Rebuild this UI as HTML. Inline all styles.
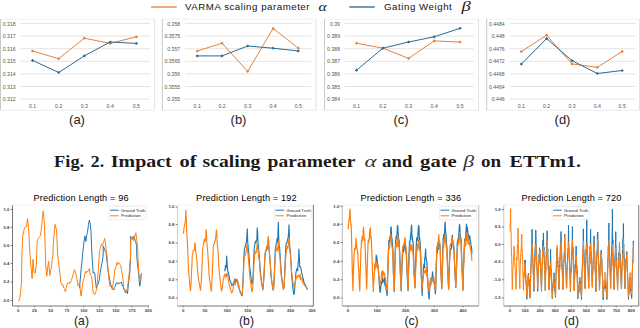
<!DOCTYPE html>
<html><head><meta charset="utf-8"><style>
html,body{margin:0;padding:0;background:#fff;width:640px;height:328px;overflow:hidden}
svg{display:block}
.yl{font-family:"Liberation Sans",sans-serif;font-size:5.8px;fill:#555}
.plab2{font-family:"Liberation Sans",sans-serif;font-size:12.2px;fill:#222}
.plab{font-family:"Liberation Sans",sans-serif;font-size:13px;fill:#222}
.leg{font-family:"Liberation Sans",sans-serif;font-size:9.7px;fill:#111}
.greek{font-family:"Liberation Serif",serif;font-size:12.5px;font-style:italic;fill:#1a1a1a}
.cap{font-family:"Liberation Serif",serif;font-size:17.4px;font-weight:bold;fill:#1a1a1a}
.capi{font-family:"Liberation Serif",serif;font-size:16.5px;font-style:italic;fill:#333}
.tt{font-family:"Liberation Sans",sans-serif;font-size:9.2px;fill:#000}
.tk{font-family:"Liberation Sans",sans-serif;font-size:4.3px;font-weight:bold;fill:#444}
.lg{font-family:"Liberation Sans",sans-serif;font-size:4.2px;fill:#222}
</style></head><body>
<svg width="640" height="328" viewBox="0 0 640 328">
<rect width="640" height="328" fill="#fff"/>
<line x1="0.5" y1="19" x2="154.7" y2="19" stroke="#f0f0f0" stroke-width="1"/>
<line x1="0.5" y1="110.3" x2="154.7" y2="110.3" stroke="#ececec" stroke-width="1"/>
<line x1="0.5" y1="19" x2="0.5" y2="110.3" stroke="#c9c9c9" stroke-width="1"/>
<line x1="154.7" y1="19" x2="154.7" y2="110.3" stroke="#e2e2e2" stroke-width="1"/>
<line x1="19.8" y1="23.5" x2="149.8" y2="23.5" stroke="#e4e4e4" stroke-width="1"/>
<text x="15.7" y="25.6" class="yl" text-anchor="end" textLength="12.89" lengthAdjust="spacingAndGlyphs">0.318</text>
<line x1="19.8" y1="36.1" x2="149.8" y2="36.1" stroke="#e4e4e4" stroke-width="1"/>
<text x="15.7" y="38.2" class="yl" text-anchor="end" textLength="12.89" lengthAdjust="spacingAndGlyphs">0.317</text>
<line x1="19.8" y1="48.7" x2="149.8" y2="48.7" stroke="#e4e4e4" stroke-width="1"/>
<text x="15.7" y="50.800000000000004" class="yl" text-anchor="end" textLength="12.89" lengthAdjust="spacingAndGlyphs">0.316</text>
<line x1="19.8" y1="61.3" x2="149.8" y2="61.3" stroke="#e4e4e4" stroke-width="1"/>
<text x="15.7" y="63.4" class="yl" text-anchor="end" textLength="12.89" lengthAdjust="spacingAndGlyphs">0.315</text>
<line x1="19.8" y1="73.9" x2="149.8" y2="73.9" stroke="#e4e4e4" stroke-width="1"/>
<text x="15.7" y="76.0" class="yl" text-anchor="end" textLength="12.89" lengthAdjust="spacingAndGlyphs">0.314</text>
<line x1="19.8" y1="86.5" x2="149.8" y2="86.5" stroke="#e4e4e4" stroke-width="1"/>
<text x="15.7" y="88.6" class="yl" text-anchor="end" textLength="12.89" lengthAdjust="spacingAndGlyphs">0.313</text>
<line x1="19.8" y1="99.1" x2="149.8" y2="99.1" stroke="#e4e4e4" stroke-width="1"/>
<text x="15.7" y="101.19999999999999" class="yl" text-anchor="end" textLength="12.89" lengthAdjust="spacingAndGlyphs">0.312</text>
<text x="32.5" y="107.7" class="yl" text-anchor="middle" textLength="7.16" lengthAdjust="spacingAndGlyphs">0.1</text>
<text x="58.7" y="107.7" class="yl" text-anchor="middle" textLength="7.16" lengthAdjust="spacingAndGlyphs">0.2</text>
<text x="84.3" y="107.7" class="yl" text-anchor="middle" textLength="7.16" lengthAdjust="spacingAndGlyphs">0.3</text>
<text x="110.2" y="107.7" class="yl" text-anchor="middle" textLength="7.16" lengthAdjust="spacingAndGlyphs">0.4</text>
<text x="136.4" y="107.7" class="yl" text-anchor="middle" textLength="7.16" lengthAdjust="spacingAndGlyphs">0.5</text>
<polyline points="32.5,51 58.7,58.7 84.3,38.2 110.2,43.4 136.4,36.8" fill="none" stroke="#E8803A" stroke-width="1.0" stroke-linejoin="round"/>
<path d="M30.9,51L32.5,49.4L34.1,51L32.5,52.6Z" fill="#E8803A"/>
<path d="M57.1,58.7L58.7,57.1L60.300000000000004,58.7L58.7,60.300000000000004Z" fill="#E8803A"/>
<path d="M82.7,38.2L84.3,36.6L85.89999999999999,38.2L84.3,39.800000000000004Z" fill="#E8803A"/>
<path d="M108.60000000000001,43.4L110.2,41.8L111.8,43.4L110.2,45.0Z" fill="#E8803A"/>
<path d="M134.8,36.8L136.4,35.199999999999996L138.0,36.8L136.4,38.4Z" fill="#E8803A"/>
<polyline points="32.5,60.4 58.7,72.5 84.3,55.9 110.2,42 136.4,43.4" fill="none" stroke="#2B6A94" stroke-width="1.0" stroke-linejoin="round"/>
<path d="M30.9,60.4L32.5,58.8L34.1,60.4L32.5,62.0Z" fill="#2B6A94"/>
<path d="M57.1,72.5L58.7,70.9L60.300000000000004,72.5L58.7,74.1Z" fill="#2B6A94"/>
<path d="M82.7,55.9L84.3,54.3L85.89999999999999,55.9L84.3,57.5Z" fill="#2B6A94"/>
<path d="M108.60000000000001,42L110.2,40.4L111.8,42L110.2,43.6Z" fill="#2B6A94"/>
<path d="M134.8,43.4L136.4,41.8L138.0,43.4L136.4,45.0Z" fill="#2B6A94"/>
<text x="77" y="124.3" class="plab" text-anchor="middle">(a)</text>
<line x1="162.3" y1="19" x2="316.1" y2="19" stroke="#f0f0f0" stroke-width="1"/>
<line x1="162.3" y1="110.3" x2="316.1" y2="110.3" stroke="#ececec" stroke-width="1"/>
<line x1="162.3" y1="19" x2="162.3" y2="110.3" stroke="#c9c9c9" stroke-width="1"/>
<line x1="316.1" y1="19" x2="316.1" y2="110.3" stroke="#e2e2e2" stroke-width="1"/>
<line x1="185.2" y1="23.5" x2="311.2" y2="23.5" stroke="#e4e4e4" stroke-width="1"/>
<text x="180.2" y="25.6" class="yl" text-anchor="end" textLength="12.89" lengthAdjust="spacingAndGlyphs">0.358</text>
<line x1="185.2" y1="36.1" x2="311.2" y2="36.1" stroke="#e4e4e4" stroke-width="1"/>
<text x="180.2" y="38.2" class="yl" text-anchor="end" textLength="15.75" lengthAdjust="spacingAndGlyphs">0.3575</text>
<line x1="185.2" y1="48.7" x2="311.2" y2="48.7" stroke="#e4e4e4" stroke-width="1"/>
<text x="180.2" y="50.800000000000004" class="yl" text-anchor="end" textLength="12.89" lengthAdjust="spacingAndGlyphs">0.357</text>
<line x1="185.2" y1="61.3" x2="311.2" y2="61.3" stroke="#e4e4e4" stroke-width="1"/>
<text x="180.2" y="63.4" class="yl" text-anchor="end" textLength="15.75" lengthAdjust="spacingAndGlyphs">0.3565</text>
<line x1="185.2" y1="73.9" x2="311.2" y2="73.9" stroke="#e4e4e4" stroke-width="1"/>
<text x="180.2" y="76.0" class="yl" text-anchor="end" textLength="12.89" lengthAdjust="spacingAndGlyphs">0.356</text>
<line x1="185.2" y1="86.5" x2="311.2" y2="86.5" stroke="#e4e4e4" stroke-width="1"/>
<text x="180.2" y="88.6" class="yl" text-anchor="end" textLength="15.75" lengthAdjust="spacingAndGlyphs">0.3555</text>
<line x1="185.2" y1="99.1" x2="311.2" y2="99.1" stroke="#e4e4e4" stroke-width="1"/>
<text x="180.2" y="101.19999999999999" class="yl" text-anchor="end" textLength="12.89" lengthAdjust="spacingAndGlyphs">0.355</text>
<text x="197.2" y="107.7" class="yl" text-anchor="middle" textLength="7.16" lengthAdjust="spacingAndGlyphs">0.1</text>
<text x="222" y="107.7" class="yl" text-anchor="middle" textLength="7.16" lengthAdjust="spacingAndGlyphs">0.2</text>
<text x="247.7" y="107.7" class="yl" text-anchor="middle" textLength="7.16" lengthAdjust="spacingAndGlyphs">0.3</text>
<text x="273.1" y="107.7" class="yl" text-anchor="middle" textLength="7.16" lengthAdjust="spacingAndGlyphs">0.4</text>
<text x="298.3" y="107.7" class="yl" text-anchor="middle" textLength="7.16" lengthAdjust="spacingAndGlyphs">0.5</text>
<polyline points="197.2,51 222,43.2 247.7,71.4 273.1,28.4 298.3,48.2" fill="none" stroke="#E8803A" stroke-width="1.0" stroke-linejoin="round"/>
<path d="M195.6,51L197.2,49.4L198.79999999999998,51L197.2,52.6Z" fill="#E8803A"/>
<path d="M220.4,43.2L222,41.6L223.6,43.2L222,44.800000000000004Z" fill="#E8803A"/>
<path d="M246.1,71.4L247.7,69.80000000000001L249.29999999999998,71.4L247.7,73.0Z" fill="#E8803A"/>
<path d="M271.5,28.4L273.1,26.799999999999997L274.70000000000005,28.4L273.1,30.0Z" fill="#E8803A"/>
<path d="M296.7,48.2L298.3,46.6L299.90000000000003,48.2L298.3,49.800000000000004Z" fill="#E8803A"/>
<polyline points="197.2,55.9 222,55.9 247.7,46 273.1,48.2 298.3,51" fill="none" stroke="#2B6A94" stroke-width="1.0" stroke-linejoin="round"/>
<path d="M195.6,55.9L197.2,54.3L198.79999999999998,55.9L197.2,57.5Z" fill="#2B6A94"/>
<path d="M220.4,55.9L222,54.3L223.6,55.9L222,57.5Z" fill="#2B6A94"/>
<path d="M246.1,46L247.7,44.4L249.29999999999998,46L247.7,47.6Z" fill="#2B6A94"/>
<path d="M271.5,48.2L273.1,46.6L274.70000000000005,48.2L273.1,49.800000000000004Z" fill="#2B6A94"/>
<path d="M296.7,51L298.3,49.4L299.90000000000003,51L298.3,52.6Z" fill="#2B6A94"/>
<text x="238.5" y="124.3" class="plab" text-anchor="middle">(b)</text>
<line x1="324.5" y1="19" x2="478.6" y2="19" stroke="#f0f0f0" stroke-width="1"/>
<line x1="324.5" y1="110.3" x2="478.6" y2="110.3" stroke="#ececec" stroke-width="1"/>
<line x1="324.5" y1="19" x2="324.5" y2="110.3" stroke="#c9c9c9" stroke-width="1"/>
<line x1="478.6" y1="19" x2="478.6" y2="110.3" stroke="#e2e2e2" stroke-width="1"/>
<line x1="344.3" y1="23.5" x2="473.7" y2="23.5" stroke="#e4e4e4" stroke-width="1"/>
<text x="340.0" y="25.6" class="yl" text-anchor="end" textLength="10.02" lengthAdjust="spacingAndGlyphs">0.39</text>
<line x1="344.3" y1="36.1" x2="473.7" y2="36.1" stroke="#e4e4e4" stroke-width="1"/>
<text x="340.0" y="38.2" class="yl" text-anchor="end" textLength="12.89" lengthAdjust="spacingAndGlyphs">0.389</text>
<line x1="344.3" y1="48.7" x2="473.7" y2="48.7" stroke="#e4e4e4" stroke-width="1"/>
<text x="340.0" y="50.800000000000004" class="yl" text-anchor="end" textLength="12.89" lengthAdjust="spacingAndGlyphs">0.388</text>
<line x1="344.3" y1="61.3" x2="473.7" y2="61.3" stroke="#e4e4e4" stroke-width="1"/>
<text x="340.0" y="63.4" class="yl" text-anchor="end" textLength="12.89" lengthAdjust="spacingAndGlyphs">0.387</text>
<line x1="344.3" y1="73.9" x2="473.7" y2="73.9" stroke="#e4e4e4" stroke-width="1"/>
<text x="340.0" y="76.0" class="yl" text-anchor="end" textLength="12.89" lengthAdjust="spacingAndGlyphs">0.386</text>
<line x1="344.3" y1="86.5" x2="473.7" y2="86.5" stroke="#e4e4e4" stroke-width="1"/>
<text x="340.0" y="88.6" class="yl" text-anchor="end" textLength="12.89" lengthAdjust="spacingAndGlyphs">0.385</text>
<line x1="344.3" y1="99.1" x2="473.7" y2="99.1" stroke="#e4e4e4" stroke-width="1"/>
<text x="340.0" y="101.19999999999999" class="yl" text-anchor="end" textLength="12.89" lengthAdjust="spacingAndGlyphs">0.384</text>
<text x="356.5" y="107.7" class="yl" text-anchor="middle" textLength="7.16" lengthAdjust="spacingAndGlyphs">0.1</text>
<text x="382.9" y="107.7" class="yl" text-anchor="middle" textLength="7.16" lengthAdjust="spacingAndGlyphs">0.2</text>
<text x="408.6" y="107.7" class="yl" text-anchor="middle" textLength="7.16" lengthAdjust="spacingAndGlyphs">0.3</text>
<text x="434.2" y="107.7" class="yl" text-anchor="middle" textLength="7.16" lengthAdjust="spacingAndGlyphs">0.4</text>
<text x="460.1" y="107.7" class="yl" text-anchor="middle" textLength="7.16" lengthAdjust="spacingAndGlyphs">0.5</text>
<polyline points="356.5,43.2 382.9,48.2 408.6,58.4 434.2,40.9 460.1,42.1" fill="none" stroke="#E8803A" stroke-width="1.0" stroke-linejoin="round"/>
<path d="M354.9,43.2L356.5,41.6L358.1,43.2L356.5,44.800000000000004Z" fill="#E8803A"/>
<path d="M381.29999999999995,48.2L382.9,46.6L384.5,48.2L382.9,49.800000000000004Z" fill="#E8803A"/>
<path d="M407.0,58.4L408.6,56.8L410.20000000000005,58.4L408.6,60.0Z" fill="#E8803A"/>
<path d="M432.59999999999997,40.9L434.2,39.3L435.8,40.9L434.2,42.5Z" fill="#E8803A"/>
<path d="M458.5,42.1L460.1,40.5L461.70000000000005,42.1L460.1,43.7Z" fill="#E8803A"/>
<polyline points="356.5,70.2 382.9,48.2 408.6,42 434.2,36.8 460.1,28.3" fill="none" stroke="#2B6A94" stroke-width="1.0" stroke-linejoin="round"/>
<path d="M354.9,70.2L356.5,68.60000000000001L358.1,70.2L356.5,71.8Z" fill="#2B6A94"/>
<path d="M381.29999999999995,48.2L382.9,46.6L384.5,48.2L382.9,49.800000000000004Z" fill="#2B6A94"/>
<path d="M407.0,42L408.6,40.4L410.20000000000005,42L408.6,43.6Z" fill="#2B6A94"/>
<path d="M432.59999999999997,36.8L434.2,35.199999999999996L435.8,36.8L434.2,38.4Z" fill="#2B6A94"/>
<path d="M458.5,28.3L460.1,26.7L461.70000000000005,28.3L460.1,29.900000000000002Z" fill="#2B6A94"/>
<text x="401" y="124.3" class="plab" text-anchor="middle">(c)</text>
<line x1="486.7" y1="19" x2="639.5" y2="19" stroke="#f0f0f0" stroke-width="1"/>
<line x1="486.7" y1="110.3" x2="639.5" y2="110.3" stroke="#ececec" stroke-width="1"/>
<line x1="486.7" y1="19" x2="486.7" y2="110.3" stroke="#c9c9c9" stroke-width="1"/>
<line x1="639.5" y1="19" x2="639.5" y2="110.3" stroke="#e2e2e2" stroke-width="1"/>
<line x1="509.5" y1="23.5" x2="635.5" y2="23.5" stroke="#e4e4e4" stroke-width="1"/>
<text x="504.7" y="25.6" class="yl" text-anchor="end" textLength="15.75" lengthAdjust="spacingAndGlyphs">0.4484</text>
<line x1="509.5" y1="36.1" x2="635.5" y2="36.1" stroke="#e4e4e4" stroke-width="1"/>
<text x="504.7" y="38.2" class="yl" text-anchor="end" textLength="12.89" lengthAdjust="spacingAndGlyphs">0.448</text>
<line x1="509.5" y1="48.7" x2="635.5" y2="48.7" stroke="#e4e4e4" stroke-width="1"/>
<text x="504.7" y="50.800000000000004" class="yl" text-anchor="end" textLength="15.75" lengthAdjust="spacingAndGlyphs">0.4476</text>
<line x1="509.5" y1="61.3" x2="635.5" y2="61.3" stroke="#e4e4e4" stroke-width="1"/>
<text x="504.7" y="63.4" class="yl" text-anchor="end" textLength="15.75" lengthAdjust="spacingAndGlyphs">0.4472</text>
<line x1="509.5" y1="73.9" x2="635.5" y2="73.9" stroke="#e4e4e4" stroke-width="1"/>
<text x="504.7" y="76.0" class="yl" text-anchor="end" textLength="15.75" lengthAdjust="spacingAndGlyphs">0.4468</text>
<line x1="509.5" y1="86.5" x2="635.5" y2="86.5" stroke="#e4e4e4" stroke-width="1"/>
<text x="504.7" y="88.6" class="yl" text-anchor="end" textLength="15.75" lengthAdjust="spacingAndGlyphs">0.4464</text>
<line x1="509.5" y1="99.1" x2="635.5" y2="99.1" stroke="#e4e4e4" stroke-width="1"/>
<text x="504.7" y="101.19999999999999" class="yl" text-anchor="end" textLength="12.89" lengthAdjust="spacingAndGlyphs">0.446</text>
<text x="521.3" y="107.7" class="yl" text-anchor="middle" textLength="7.16" lengthAdjust="spacingAndGlyphs">0.1</text>
<text x="546.6" y="107.7" class="yl" text-anchor="middle" textLength="7.16" lengthAdjust="spacingAndGlyphs">0.2</text>
<text x="572" y="107.7" class="yl" text-anchor="middle" textLength="7.16" lengthAdjust="spacingAndGlyphs">0.3</text>
<text x="597.3" y="107.7" class="yl" text-anchor="middle" textLength="7.16" lengthAdjust="spacingAndGlyphs">0.4</text>
<text x="622.2" y="107.7" class="yl" text-anchor="middle" textLength="7.16" lengthAdjust="spacingAndGlyphs">0.5</text>
<polyline points="521.3,51.6 546.6,35.1 572,63.9 597.3,67.4 622.2,51.4" fill="none" stroke="#E8803A" stroke-width="1.0" stroke-linejoin="round"/>
<path d="M519.6999999999999,51.6L521.3,50.0L522.9,51.6L521.3,53.2Z" fill="#E8803A"/>
<path d="M545.0,35.1L546.6,33.5L548.2,35.1L546.6,36.7Z" fill="#E8803A"/>
<path d="M570.4,63.9L572,62.3L573.6,63.9L572,65.5Z" fill="#E8803A"/>
<path d="M595.6999999999999,67.4L597.3,65.80000000000001L598.9,67.4L597.3,69.0Z" fill="#E8803A"/>
<path d="M620.6,51.4L622.2,49.8L623.8000000000001,51.4L622.2,53.0Z" fill="#E8803A"/>
<polyline points="521.3,64.1 546.6,38.6 572,60.6 597.3,73.5 622.2,70.5" fill="none" stroke="#2B6A94" stroke-width="1.0" stroke-linejoin="round"/>
<path d="M519.6999999999999,64.1L521.3,62.49999999999999L522.9,64.1L521.3,65.69999999999999Z" fill="#2B6A94"/>
<path d="M545.0,38.6L546.6,37.0L548.2,38.6L546.6,40.2Z" fill="#2B6A94"/>
<path d="M570.4,60.6L572,59.0L573.6,60.6L572,62.2Z" fill="#2B6A94"/>
<path d="M595.6999999999999,73.5L597.3,71.9L598.9,73.5L597.3,75.1Z" fill="#2B6A94"/>
<path d="M620.6,70.5L622.2,68.9L623.8000000000001,70.5L622.2,72.1Z" fill="#2B6A94"/>
<text x="562.5" y="124.3" class="plab" text-anchor="middle">(d)</text>
<line x1="151.1" y1="7" x2="176.7" y2="7" stroke="#E8803A" stroke-width="1.35"/>
<text x="185.1" y="10.3" class="leg" textLength="124.4" lengthAdjust="spacing">VARMA scaling parameter</text>
<text x="318.4" y="10.9" class="greek" style="font-size:13px" textLength="8.2" lengthAdjust="spacingAndGlyphs">α</text>
<line x1="349.4" y1="7" x2="374.8" y2="7" stroke="#2B6A94" stroke-width="1.35"/>
<text x="384.0" y="10.3" class="leg" textLength="67.8" lengthAdjust="spacing">Gating Weight</text>
<text x="461.4" y="10.8" class="greek" style="font-size:14.5px" textLength="9.3" lengthAdjust="spacingAndGlyphs">β</text>
<text x="54.1" y="167" class="cap" textLength="30.05" lengthAdjust="spacingAndGlyphs">Fig.</text>
<text x="90.85" y="167" class="cap" textLength="13.3" lengthAdjust="spacingAndGlyphs">2.</text>
<text x="110.85" y="167" class="cap" textLength="60.8" lengthAdjust="spacingAndGlyphs">Impact</text>
<text x="179.6" y="167" class="cap" textLength="17.05" lengthAdjust="spacingAndGlyphs">of</text>
<text x="202.6" y="167" class="cap" textLength="57.8" lengthAdjust="spacingAndGlyphs">scaling</text>
<text x="267.6" y="167" class="cap" textLength="87.8" lengthAdjust="spacingAndGlyphs">parameter</text>
<text x="364.6" y="167" class="capi" textLength="12.05" lengthAdjust="spacingAndGlyphs">α</text>
<text x="382.1" y="167" class="cap" textLength="30.3" lengthAdjust="spacingAndGlyphs">and</text>
<text x="420.1" y="167" class="cap" textLength="36.55" lengthAdjust="spacingAndGlyphs">gate</text>
<text x="463.35" y="167" class="capi" textLength="10.8" lengthAdjust="spacingAndGlyphs">β</text>
<text x="481.1" y="167" class="cap" textLength="20.100000000000012" lengthAdjust="spacingAndGlyphs">on</text>
<text x="509.6" y="167" class="cap" textLength="71.40000000000002" lengthAdjust="spacingAndGlyphs">ETTm1.</text>
<text x="33.6" y="200.7" class="tt" textLength="95.0" lengthAdjust="spacing">Prediction Length = 96</text>
<polyline points="79.5,288.27 80.28,279.17 81.05,269.55 81.82,263.16 82.6,253.55 83.3,247.73 84.1,241.06 84.9,236.02 85.9,241.44 86.7,235.07 87.5,232.29 88.45,224.55 89.4,220.04 90.2,224.03 91.0,231.58 92.0,256.1 93.2,273.28 94.0,272.24 94.8,273.42 95.55,281.69 96.3,287.77 97.05,285.36 97.8,284.88 98.55,282.58 99.3,279.83 100.1,273.44 100.9,268.33 101.67,263.75 102.43,260.92 103.2,254.92 103.2,246.08 103.95,247.57 104.7,250.59 105.45,251.67 106.2,253.4 106.97,261.23 107.73,267.5 108.5,272.55 109.27,277.57 110.03,281.16 110.8,284.85 111.55,287.1 112.3,288.21 113.05,289.07 113.8,290.08 114.57,287.47 115.33,286.0 116.1,283.34 116.86,282.61 117.62,284.17 118.38,282.88 119.14,283.08 119.9,283.5 120.67,282.43 121.43,282.16 122.2,285.38 122.97,285.81 123.75,289.33 124.53,290.18 125.3,292.51 126.03,292.79 126.77,290.73 127.5,293.75 128.27,285.89 129.03,279.22 129.8,272.91 130.6,255.69 130.6,236.3 131.27,237.91 131.93,237.01 132.6,239.47 133.5,236.36 134.4,236.91 135.17,240.61 135.93,242.45 136.7,246.42 136.7,255.21 137.45,263.51 138.2,269.46 138.95,277.85 139.7,286.31 140.5,281.73 141.3,273.3" fill="none" stroke="#1F77B4" stroke-width="1.0" stroke-linejoin="round"/>
<polyline points="18.4,301.2 19.07,300.07 19.73,298.06 20.4,294.14 21.5,281.2 21.9,254.94 22.7,235.93 23.9,230.39 24.65,227.56 25.4,226.74 26.5,226.94 27.5,218.43 28.5,227.68 29.5,245.48 30.0,254.91 31.1,268.45 32.1,278.61 33.0,259.34 34.1,272.59 35.2,272.98 36.4,264.19 37.2,241.73 37.95,239.39 38.7,237.74 39.45,236.9 40.2,236.12 40.95,231.89 41.7,226.49 42.45,216.69 43.2,210.93 44.3,222.02 45.5,254.85 45.8,265.87 46.8,276.3 47.7,268.0 48.6,261.29 49.8,275.47 50.55,270.21 51.3,268.76 52.1,260.31 52.9,254.74 53.2,245.2 54.1,234.22 55.0,224.33 55.75,227.54 56.5,229.99 57.7,255.51 58.5,260.37 59.3,268.88 60.05,274.35 60.8,283.02 61.57,283.44 62.33,285.32 63.1,284.96 63.87,288.17 64.63,288.92 65.4,291.94 66.15,288.31 66.9,284.83 67.67,283.0 68.43,283.39 69.2,282.12 69.95,283.53 70.7,282.06 71.46,280.32 72.22,277.7 72.98,274.91 73.74,272.27 74.5,269.66 75.27,271.76 76.03,274.19 76.8,277.54 78.0,286.03 78.75,284.96 79.5,282.58 80.25,289.5 81.0,296.1 81.77,290.7 82.53,284.9 83.3,280.09 84.07,278.46 84.83,274.04 85.6,271.18 86.36,273.1 87.12,271.1 87.88,271.29 88.64,270.75 89.4,268.48 90.17,273.96 90.93,275.63 91.7,276.46 92.45,285.38 93.2,293.21 94.0,293.05 94.8,294.5 95.53,292.4 96.27,290.54 97.0,287.64 97.77,276.39 98.53,266.89 99.3,254.32 99.3,251.41 100.25,248.65 101.2,244.34 101.95,243.79 102.7,245.38 103.37,243.35 104.03,240.54 104.7,238.39 105.45,242.95 106.2,250.7 107.0,255.58 107.75,266.31 108.5,275.77 109.25,281.68 110.0,286.08 110.77,286.9 111.53,287.17 112.3,289.63 113.07,283.6 113.83,279.04 114.6,270.76 115.37,267.77 116.13,266.54 116.9,262.53 117.66,264.58 118.42,262.58 119.18,263.07 119.94,264.45 120.7,265.38 121.45,269.29 122.2,273.57 122.95,279.26 123.7,287.86 124.47,288.73 125.25,289.57 126.03,291.35 126.8,291.3 127.57,286.71 128.33,280.47 129.1,274.5 129.85,265.01 130.6,255.39 130.6,240.77 131.35,238.07 132.1,236.79 132.85,236.92 133.6,240.74 134.37,238.57 135.13,235.07 135.9,232.77 136.85,240.84 137.8,250.85 137.8,255.19 139.0,275.26 139.75,277.32 140.5,280.2 141.25,275.65 142,274.8" fill="none" stroke="#FF7F0E" stroke-width="1.0" stroke-linejoin="round"/>
<line x1="12.5" y1="205" x2="12.5" y2="306" stroke="#666" stroke-width="0.9"/>
<line x1="12.5" y1="306" x2="149" y2="306" stroke="#555" stroke-width="0.8"/>
<line x1="12.5" y1="205" x2="149" y2="205" stroke="#f0f0f0" stroke-width="0.8"/>
<line x1="10.7" y1="209.5" x2="12.5" y2="209.5" stroke="#444" stroke-width="0.7"/>
<text x="9.5" y="210.9" class="tk" text-anchor="end">1.0</text>
<line x1="10.7" y1="227.4" x2="12.5" y2="227.4" stroke="#444" stroke-width="0.7"/>
<text x="9.5" y="228.8" class="tk" text-anchor="end">0.8</text>
<line x1="10.7" y1="245.5" x2="12.5" y2="245.5" stroke="#444" stroke-width="0.7"/>
<text x="9.5" y="246.9" class="tk" text-anchor="end">0.6</text>
<line x1="10.7" y1="263.5" x2="12.5" y2="263.5" stroke="#444" stroke-width="0.7"/>
<text x="9.5" y="264.9" class="tk" text-anchor="end">0.4</text>
<line x1="10.7" y1="282" x2="12.5" y2="282" stroke="#444" stroke-width="0.7"/>
<text x="9.5" y="283.4" class="tk" text-anchor="end">0.2</text>
<line x1="10.7" y1="300.5" x2="12.5" y2="300.5" stroke="#444" stroke-width="0.7"/>
<text x="9.5" y="301.9" class="tk" text-anchor="end">0.0</text>
<line x1="18.25" y1="306" x2="18.25" y2="307.5" stroke="#555" stroke-width="0.6"/>
<text x="18.25" y="311.9" class="tk" text-anchor="middle">0</text>
<line x1="34.5" y1="306" x2="34.5" y2="307.5" stroke="#555" stroke-width="0.6"/>
<text x="34.5" y="311.9" class="tk" text-anchor="middle">25</text>
<line x1="50.75" y1="306" x2="50.75" y2="307.5" stroke="#555" stroke-width="0.6"/>
<text x="50.75" y="311.9" class="tk" text-anchor="middle">50</text>
<line x1="67" y1="306" x2="67" y2="307.5" stroke="#555" stroke-width="0.6"/>
<text x="67" y="311.9" class="tk" text-anchor="middle">75</text>
<line x1="83.75" y1="306" x2="83.75" y2="307.5" stroke="#555" stroke-width="0.6"/>
<text x="83.75" y="311.9" class="tk" text-anchor="middle">100</text>
<line x1="99.5" y1="306" x2="99.5" y2="307.5" stroke="#555" stroke-width="0.6"/>
<text x="99.5" y="311.9" class="tk" text-anchor="middle">125</text>
<line x1="115.75" y1="306" x2="115.75" y2="307.5" stroke="#555" stroke-width="0.6"/>
<text x="115.75" y="311.9" class="tk" text-anchor="middle">150</text>
<line x1="132" y1="306" x2="132" y2="307.5" stroke="#555" stroke-width="0.6"/>
<text x="132" y="311.9" class="tk" text-anchor="middle">175</text>
<line x1="148.25" y1="306" x2="148.25" y2="307.5" stroke="#555" stroke-width="0.6"/>
<text x="148.25" y="311.9" class="tk" text-anchor="middle">200</text>
<rect x="109" y="206.6" width="37.099999999999994" height="13.1" fill="#fff" fill-opacity="0.85" stroke="#e3e3e3" stroke-width="0.6" rx="1"/>
<line x1="110.1" y1="210.2" x2="118.7" y2="210.2" stroke="#1F77B4" stroke-width="1"/>
<line x1="110.1" y1="215.8" x2="118.7" y2="215.8" stroke="#FF7F0E" stroke-width="1"/>
<text x="121.1" y="211.7" class="lg" textLength="24.3" lengthAdjust="spacingAndGlyphs">Ground Truth</text>
<text x="121.1" y="217.3" class="lg" textLength="19.6" lengthAdjust="spacingAndGlyphs">Prediction</text>
<text x="81.5" y="324.9" class="plab2" text-anchor="middle">(a)</text>
<text x="196.1" y="200.7" class="tt" textLength="100.59999999999997" lengthAdjust="spacing">Prediction Length = 192</text>
<polyline points="224.53,269.39 224.96,270.9 225.39,265.55 225.82,268.27 226.25,266.58 226.68,255.94 227.11,262.8 227.54,269.42 227.97,271.98 228.4,272.45 228.83,275.34 229.26,276.73 229.69,279.65 230.12,280.51 230.55,281.85 230.98,282.8 231.41,284.37 231.84,285.67 232.27,284.88 232.7,284.43 233.13,283.7 233.56,282.11 233.99,282.33 234.42,281.24 234.85,279.01 235.28,279.06 235.71,281.55 236.14,281.33 236.57,281.59 237.0,279.31 237.43,282.06 237.86,281.29 238.29,286.42 238.72,285.14 239.15,289.19 239.58,289.33 240.01,291.43 240.44,292.86 240.87,293.53 241.3,294.36 241.73,295.73 242.16,295.44 242.59,288.82 243.02,280.67 243.45,268.69 243.88,257.4 244.31,249.48 244.74,248.03 245.17,247.09 245.6,244.79 246.03,242.92 246.46,242.22 246.89,235.48 247.32,228.74 247.75,243.16 248.18,247.38 248.61,251.39 249.04,256.33 249.47,263.48 249.9,269.25 250.33,271.11 250.76,275.65 251.19,279.9 251.62,280.89 252.05,284.0 252.48,283.46 252.91,277.52 253.34,270.65 253.77,258.81 254.2,248.73 254.63,245.61 255.06,243.04 255.49,241.03 255.92,242.6 256.35,241.37 256.78,240.18 257.21,227.92 257.64,232.19 258.07,243.63 258.5,246.61 258.93,251.98 259.36,257.44 259.79,263.55 260.22,270.43 260.65,274.31 261.08,277.93 261.51,280.78 261.94,284.45 262.37,286.81 262.8,289.88 263.23,286.78 263.66,281.18 264.09,273.12 264.52,265.89 264.95,256.61 265.38,252.77 265.81,249.95 266.24,250.79 266.67,249.51 267.1,249.13 267.53,248.3 267.96,243.65 268.39,236.75 268.82,246.89 269.25,251.68 269.68,255.62 270.11,262.46 270.54,267.69 270.97,275.26 271.4,278.85 271.83,282.08 272.26,284.93 272.69,287.75 273.12,289.83 273.55,288.82 273.98,281.87 274.41,271.4 274.84,261.11 275.27,249.37 275.7,247.22 276.13,244.37 276.56,242.39 276.99,238.53 277.42,242.45 277.85,236.92 278.28,222.01 278.71,237.07 279.14,245.79 279.57,247.07 280.0,253.69 280.43,259.84 280.86,265.94 281.29,273.95 281.72,277.21 282.15,281.09 282.58,283.9 283.01,285.91 283.44,288.86 283.87,287.63 284.3,281.4 284.73,272.36 285.16,260.96 285.59,251.4 286.02,244.07 286.45,242.69 286.88,242.95 287.31,241.18 287.74,238.85 288.17,237.4 288.6,231.74 289.03,224.85 289.46,239.07 289.89,248.5 290.32,250.01 290.75,257.7 291.18,266.8 291.61,273.86 292.04,279.96 292.47,283.11 292.9,287.93 293.33,291.58 293.76,294.5 294.19,294.14 294.62,290.09 295.05,282.93 295.48,280.69 295.91,272.15 296.34,271.0 296.77,269.21 297.2,268.14 297.63,270.81 298.06,264.09 298.49,260.67 298.92,248.96 299.35,257.72 299.78,266.96 300.21,266.69 300.64,267.06 301.07,268.53 301.5,271.68 301.93,273.78 302.36,275.48 302.79,278.1 303.22,278.09 303.65,281.23 304.08,282.88 304.51,283.37 304.94,283.96 305.37,285.75 305.8,285.89 306.23,287.0 306.66,287.6 307.09,289.38 307.52,289.6" fill="none" stroke="#1F77B4" stroke-width="1.1" stroke-linejoin="round"/>
<polyline points="183.25,233.59 183.68,230.97 184.11,227.34 184.54,224.82 184.97,223.02 185.4,220.92 185.83,210.25 186.26,218.87 186.69,230.46 187.12,236.76 187.55,246.58 187.98,256.15 188.41,267.87 188.84,273.47 189.27,277.93 189.7,283.76 190.13,288.26 190.56,290.71 190.99,284.15 191.42,275.48 191.85,266.42 192.28,255.24 192.71,254.3 193.14,250.62 193.57,250.5 194.0,250.83 194.43,249.51 194.86,242.95 195.29,243.49 195.72,251.79 196.15,254.46 196.58,258.44 197.01,262.73 197.44,268.95 197.87,273.38 198.3,277.9 198.73,280.7 199.16,282.39 199.59,285.23 200.02,287.53 200.45,290.49 200.88,286.93 201.31,281.37 201.74,273.14 202.17,262.25 202.6,250.49 203.03,247.04 203.46,243.31 203.89,243.0 204.32,239.09 204.75,239.49 205.18,241.16 205.61,239.63 206.04,229.64 206.47,232.92 206.9,242.74 207.33,248.14 207.76,251.99 208.19,259.6 208.62,265.98 209.05,274.68 209.48,278.49 209.91,281.17 210.34,284.28 210.77,287.76 211.2,291.35 211.63,286.18 212.06,280.06 212.49,268.43 212.92,257.48 213.35,245.95 213.78,244.16 214.21,244.12 214.64,241.25 215.07,241.64 215.5,238.52 215.93,235.17 216.36,229.79 216.79,232.18 217.22,243.05 217.65,247.63 218.08,251.18 218.51,260.43 218.94,266.91 219.37,272.65 219.8,277.55 220.23,280.66 220.66,284.3 221.09,287.56 221.52,291.02 221.95,289.71 222.38,287.67 222.81,284.7 223.24,279.08 223.67,279.1 224.1,275.32 224.53,276.76 224.96,274.08 225.39,273.99 225.82,274.54 226.25,277.4 226.68,273.6 227.11,273.23 227.54,276.27 227.97,276.66 228.4,279.76 228.83,281.76 229.26,285.45 229.69,286.42 230.12,288.29 230.55,289.26 230.98,290.54 231.41,292.11 231.84,292.98 232.27,292.12 232.7,291.15 233.13,289.08 233.56,284.32 233.99,284.32 234.42,280.78 234.85,282.64 235.28,285.24 235.71,281.99 236.14,281.53 236.57,281.64 237.0,280.03 237.43,282.2 237.86,282.67 238.29,286.15 238.72,287.2 239.15,287.85 239.58,290.14 240.01,291.8 240.44,292.81 240.87,293.3 241.3,294.21 241.73,294.65 242.16,294.37 242.59,288.91 243.02,283.21 243.45,273.88 243.88,263.63 244.31,256.22 244.74,255.63 245.17,255.83 245.6,254.63 246.03,250.88 246.46,251.03 246.89,244.8 247.32,243.26 247.75,252.28 248.18,256.07 248.61,260.74 249.04,266.23 249.47,271.62 249.9,277.83 250.33,280.54 250.76,283.11 251.19,286.71 251.62,290.02 252.05,291.72 252.48,290.47 252.91,285.42 253.34,278.67 253.77,267.23 254.2,259.66 254.63,253.58 255.06,254.41 255.49,252.31 255.92,250.84 256.35,252.57 256.78,248.22 257.21,242.4 257.64,247.35 258.07,249.63 258.5,256.98 258.93,257.21 259.36,260.96 259.79,267.53 260.22,273.08 260.65,277.41 261.08,279.74 261.51,282.89 261.94,283.98 262.37,286.99 262.8,289.4 263.23,286.64 263.66,279.88 264.09,272.69 264.52,262.85 264.95,254.16 265.38,251.62 265.81,249.67 266.24,249.59 266.67,245.92 267.1,246.45 267.53,247.06 267.96,243.66 268.39,236.62 268.82,246.41 269.25,249.02 269.68,256.48 270.11,259.81 270.54,266.29 270.97,273.34 271.4,278.5 271.83,282.04 272.26,284.25 272.69,287.11 273.12,290.23 273.55,288.73 273.98,282.6 274.41,275.81 274.84,265.14 275.27,257.23 275.7,251.52 276.13,247.05 276.56,250.28 276.99,249.3 277.42,250.65 277.85,246.65 278.28,240.72 278.71,247.37 279.14,251.22 279.57,255.23 280.0,257.49 280.43,265.39 280.86,270.02 281.29,276.21 281.72,279.66 282.15,282.43 282.58,284.3 283.01,287.82 283.44,289.45 283.87,288.34 284.3,283.21 284.73,275.6 285.16,266.41 285.59,259.19 286.02,253.06 286.45,250.79 286.88,245.92 287.31,246.69 287.74,248.72 288.17,246.54 288.6,241.5 289.03,237.54 289.46,245.26 289.89,251.37 290.32,254.53 290.75,260.31 291.18,264.64 291.61,272.24 292.04,275.36 292.47,278.39 292.9,282.14 293.33,284.08 293.76,286.62 294.19,286.85 294.62,285.16 295.05,284.08 295.48,281.61 295.91,278.41 296.34,277.13 296.77,277.84 297.2,275.94 297.63,276.49 298.06,276.2 298.49,274.93 298.92,275.83 299.35,277.22 299.78,277.78 300.21,274.09 300.64,279.85 301.07,278.9 301.5,278.06 301.93,279.42 302.36,281.69 302.79,282.67 303.22,283.32 303.65,283.75 304.08,284.71 304.51,285.75 304.94,285.69 305.37,285.77 305.8,286.43 306.23,287.15 306.66,287.8 307.09,288.87 307.52,288.15" fill="none" stroke="#FF7F0E" stroke-width="1.1" stroke-linejoin="round"/>
<line x1="177.5" y1="205" x2="177.5" y2="306" stroke="#cfcfcf" stroke-width="0.9"/>
<line x1="177.5" y1="306" x2="313.4" y2="306" stroke="#555" stroke-width="0.8"/>
<line x1="177.5" y1="205" x2="313.4" y2="205" stroke="#f0f0f0" stroke-width="0.8"/>
<line x1="175.7" y1="207" x2="177.5" y2="207" stroke="#444" stroke-width="0.7"/>
<text x="174.5" y="208.4" class="tk" text-anchor="end">1.0</text>
<line x1="175.7" y1="224.5" x2="177.5" y2="224.5" stroke="#444" stroke-width="0.7"/>
<text x="174.5" y="225.9" class="tk" text-anchor="end">0.8</text>
<line x1="175.7" y1="243" x2="177.5" y2="243" stroke="#444" stroke-width="0.7"/>
<text x="174.5" y="244.4" class="tk" text-anchor="end">0.6</text>
<line x1="175.7" y1="261.25" x2="177.5" y2="261.25" stroke="#444" stroke-width="0.7"/>
<text x="174.5" y="262.65" class="tk" text-anchor="end">0.4</text>
<line x1="175.7" y1="279.75" x2="177.5" y2="279.75" stroke="#444" stroke-width="0.7"/>
<text x="174.5" y="281.15" class="tk" text-anchor="end">0.2</text>
<line x1="175.7" y1="298" x2="177.5" y2="298" stroke="#444" stroke-width="0.7"/>
<text x="174.5" y="299.4" class="tk" text-anchor="end">0.0</text>
<line x1="183.25" y1="306" x2="183.25" y2="307.5" stroke="#555" stroke-width="0.6"/>
<text x="183.25" y="311.9" class="tk" text-anchor="middle">0</text>
<line x1="205" y1="306" x2="205" y2="307.5" stroke="#555" stroke-width="0.6"/>
<text x="205" y="311.9" class="tk" text-anchor="middle">50</text>
<line x1="227" y1="306" x2="227" y2="307.5" stroke="#555" stroke-width="0.6"/>
<text x="227" y="311.9" class="tk" text-anchor="middle">100</text>
<line x1="247.5" y1="306" x2="247.5" y2="307.5" stroke="#555" stroke-width="0.6"/>
<text x="247.5" y="311.9" class="tk" text-anchor="middle">150</text>
<line x1="270" y1="306" x2="270" y2="307.5" stroke="#555" stroke-width="0.6"/>
<text x="270" y="311.9" class="tk" text-anchor="middle">200</text>
<line x1="290.5" y1="306" x2="290.5" y2="307.5" stroke="#555" stroke-width="0.6"/>
<text x="290.5" y="311.9" class="tk" text-anchor="middle">250</text>
<line x1="312" y1="306" x2="312" y2="307.5" stroke="#555" stroke-width="0.6"/>
<text x="312" y="311.9" class="tk" text-anchor="middle">300</text>
<rect x="274.4" y="206.6" width="37.10000000000002" height="13.1" fill="#fff" fill-opacity="0.85" stroke="#e3e3e3" stroke-width="0.6" rx="1"/>
<line x1="275.5" y1="210.2" x2="284.09999999999997" y2="210.2" stroke="#1F77B4" stroke-width="1"/>
<line x1="275.5" y1="215.8" x2="284.09999999999997" y2="215.8" stroke="#FF7F0E" stroke-width="1"/>
<text x="286.5" y="211.7" class="lg" textLength="24.3" lengthAdjust="spacingAndGlyphs">Ground Truth</text>
<text x="286.5" y="217.3" class="lg" textLength="19.6" lengthAdjust="spacingAndGlyphs">Prediction</text>
<line x1="313.4" y1="205" x2="313.4" y2="306" stroke="#555" stroke-width="0.8"/>
<text x="246.5" y="324.9" class="plab2" text-anchor="middle">(b)</text>
<text x="360.5" y="200.7" class="tt" textLength="100.6" lengthAdjust="spacing">Prediction Length = 336</text>
<polyline points="375.6,262.9 375.89,265.64 376.18,255.15 376.46,256.33 376.75,256.88 377.04,258.77 377.33,263.11 377.61,265.35 377.9,267.97 378.19,267.73 378.48,272.86 378.76,275.32 379.05,280.69 379.34,284.36 379.63,288.31 379.91,291.8 380.2,292.34 380.49,290.29 380.78,286.38 381.06,284.96 381.35,283.7 381.64,281.75 381.93,283.53 382.21,281.84 382.5,278.46 382.79,278.55 383.08,281.71 383.36,280.69 383.65,281.8 383.94,280.77 384.23,281.52 384.51,278.0 384.8,284.92 385.09,280.32 385.38,285.96 385.66,284.19 385.95,287.22 386.24,290.37 386.53,291.64 386.81,293.21 387.1,295.72 387.39,289.14 387.68,274.8 387.96,265.29 388.25,255.77 388.54,247.55 388.83,240.72 389.11,240.87 389.4,241.69 389.69,238.74 389.98,236.45 390.26,235.75 390.55,234.83 390.84,227.22 391.13,226.9 391.41,232.58 391.7,238.29 391.99,238.88 392.28,242.7 392.56,246.09 392.85,248.28 393.14,261.44 393.43,273.4 393.71,276.52 394.0,284.51 394.29,291.67 394.58,275.66 394.86,266.66 395.15,253.74 395.44,244.1 395.73,239.85 396.01,237.69 396.3,235.96 396.59,238.59 396.88,236.96 397.16,231.83 397.45,225.32 397.74,226.3 398.03,230.52 398.31,234.25 398.6,238.53 398.89,239.66 399.18,240.49 399.46,249.2 399.75,254.01 400.04,263.35 400.33,270.81 400.61,278.68 400.9,284.17 401.19,290.85 401.48,280.85 401.76,271.29 402.05,263.8 402.34,259.98 402.63,252.22 402.91,251.52 403.2,248.91 403.49,251.84 403.78,250.27 404.06,250.09 404.35,247.53 404.64,242.4 404.93,239.26 405.21,246.33 405.5,248.05 405.79,249.52 406.08,253.94 406.36,254.99 406.65,264.29 406.94,268.59 407.23,275.65 407.51,280.97 407.8,286.28 408.09,290.64 408.38,276.76 408.66,265.56 408.95,254.9 409.24,248.59 409.53,242.1 409.81,243.18 410.1,241.07 410.39,239.34 410.68,234.0 410.96,235.27 411.25,227.38 411.54,225.09 411.83,231.06 412.11,239.39 412.4,236.51 412.69,241.29 412.98,241.21 413.26,246.05 413.55,255.86 413.84,263.13 414.13,271.81 414.41,276.97 414.7,281.16 414.99,287.28 415.28,278.08 415.56,266.88 415.85,257.86 416.14,248.76 416.43,242.95 416.71,237.97 417.0,238.1 417.29,240.62 417.58,238.44 417.86,235.42 418.15,230.41 418.44,226.26 418.73,225.42 419.01,227.43 419.3,239.3 419.59,237.06 419.88,239.97 420.16,243.52 420.45,248.01 420.74,258.29 421.03,265.22 421.31,276.39 421.6,283.68 421.89,289.45 422.18,295.41 422.46,285.06 422.75,276.72 423.04,278.24 423.33,269.62 423.61,266.09 423.9,264.6 424.19,263.57 424.48,267.83 424.76,258.03 425.05,258.47 425.34,252.92 425.63,249.03 425.91,256.66 426.2,259.18 426.49,260.2 426.78,261.78 427.06,266.25 427.35,272.31 427.64,277.64 427.93,284.22 428.21,287.43 428.5,293.32 428.79,297.6 429.08,299.0 429.36,292.32 429.65,290.79 429.94,285.06 430.23,282.15 430.51,278.86 430.8,284.28 431.09,280.07 431.38,278.72 431.66,278.91 431.95,277.4 432.24,276.24 432.53,271.94 432.81,274.76 433.1,279.81 433.39,281.53 433.68,277.51 433.96,281.48 434.25,282.92 434.54,283.46 434.83,288.71 435.11,290.28 435.4,293.6 435.69,290.01 435.98,276.61 436.26,266.45 436.55,260.55 436.84,248.15 437.13,250.65 437.41,252.29 437.7,245.81 437.99,249.49 438.28,248.91 438.56,242.19 438.85,242.99 439.14,243.83 439.43,245.64 439.71,243.73 440.0,247.23 440.29,250.62 440.58,264.9 440.86,268.83 441.15,275.79 441.44,280.97 441.73,288.79 442.01,283.83 442.3,270.49 442.59,260.33 442.88,248.8 443.16,237.9 443.45,238.13 443.74,234.3 444.03,237.54 444.31,238.76 444.6,231.59 444.89,225.16 445.18,222.11 445.46,230.0 445.75,232.44 446.04,235.17 446.33,239.18 446.61,244.46 446.9,247.2 447.19,254.96 447.48,260.33 447.76,270.76 448.05,276.2 448.34,282.39 448.63,288.93 448.91,278.89 449.2,269.54 449.49,264.17 449.78,255.94 450.06,249.52 450.35,250.91 450.64,248.81 450.93,248.04 451.21,248.9 451.5,245.41 451.79,240.56 452.08,238.33 452.36,235.13 452.65,242.02 452.94,243.01 453.23,246.7 453.51,248.57 453.8,246.24 454.09,252.79 454.38,260.94 454.66,265.35 454.95,272.67 455.24,277.14 455.53,281.81 455.81,287.45 456.1,281.31 456.39,270.36 456.68,260.86 456.96,255.74 457.25,243.1 457.54,240.9 457.83,240.52 458.11,238.5 458.4,238.94 458.69,235.58 458.98,232.63 459.26,227.19 459.55,224.36 459.84,227.16 460.13,234.53 460.41,236.6 460.7,237.48 460.99,238.88 461.28,242.39 461.56,253.54 461.85,262.78 462.14,268.92 462.43,276.85 462.71,283.91 463.0,289.77 463.29,274.84 463.58,264.37 463.86,260.24 464.15,250.5 464.44,243.92 464.73,239.04 465.01,241.04 465.3,238.36 465.59,238.63 465.88,233.44 466.16,230.08 466.45,224.17 466.74,228.15 467.03,233.03 467.31,227.68 467.6,229.42 467.89,235.09 468.18,236.48 468.46,234.28 468.75,236.82 469.04,236.85 469.33,237.51 469.61,239.67 469.9,236.06 470.19,240.87 470.48,242.08 470.76,242.68 471.05,246.8 471.34,246.25 471.63,248.32 471.91,253.74" fill="none" stroke="#1F77B4" stroke-width="1.2" stroke-linejoin="round"/>
<polyline points="348,229.41 348.29,228.61 348.58,224.44 348.86,221.43 349.15,219.4 349.44,217.47 349.73,210.74 350.01,209.09 350.3,217.67 350.59,221.76 350.88,224.89 351.16,224.02 351.45,235.23 351.74,247.1 352.03,257.35 352.31,270.85 352.6,280.15 352.89,290.44 353.18,280.35 353.46,270.09 353.75,264.12 354.04,254.44 354.33,251.78 354.61,248.23 354.9,248.63 355.19,249.56 355.48,247.31 355.76,242.89 356.05,238.06 356.34,243.94 356.63,245.65 356.91,248.85 357.2,248.87 357.49,251.84 357.78,252.33 358.06,258.85 358.35,265.55 358.64,269.3 358.93,276.15 359.21,281.01 359.5,287.32 359.79,291.06 360.08,278.39 360.36,268.5 360.65,259.56 360.94,249.5 361.23,246.29 361.51,240.37 361.8,241.95 362.09,236.76 362.38,237.81 362.66,240.72 362.95,239.43 363.24,230.37 363.53,227.26 363.81,231.99 364.1,237.32 364.39,238.68 364.68,240.61 364.96,239.51 365.25,250.26 365.54,259.62 365.83,266.12 366.11,273.58 366.4,281.37 366.69,289.19 366.98,280.07 367.26,267.92 367.55,257.12 367.84,248.92 368.13,240.53 368.41,240.09 368.7,242.31 368.99,239.0 369.28,240.02 369.56,233.89 369.85,229.46 370.14,231.14 370.43,227.64 370.71,236.99 371.0,239.03 371.29,237.66 371.58,245.78 371.86,252.52 372.15,258.67 372.44,270.37 372.73,277.09 373.01,284.44 373.3,291.55 373.59,285.0 373.88,279.19 374.16,274.71 374.45,271.2 374.74,263.92 375.03,269.93 375.31,264.49 375.6,267.35 375.89,263.45 376.18,262.33 376.46,261.93 376.75,266.88 377.04,265.6 377.33,263.99 377.61,265.31 377.9,264.09 378.19,267.72 378.48,270.05 378.76,275.34 379.05,275.98 379.34,280.25 379.63,282.59 379.91,285.44 380.2,285.48 380.49,281.97 380.78,280.56 381.06,279.68 381.35,277.88 381.64,271.94 381.93,275.78 382.21,270.57 382.5,274.05 382.79,278.19 383.08,272.78 383.36,271.58 383.65,272.89 383.94,273.56 384.23,274.57 384.51,273.34 384.8,277.78 385.09,277.77 385.38,277.48 385.66,280.78 385.95,283.56 386.24,286.19 386.53,287.51 386.81,289.54 387.1,290.88 387.39,285.17 387.68,273.28 387.96,267.92 388.25,260.92 388.54,252.41 388.83,245.41 389.11,246.5 389.4,248.67 389.69,247.29 389.98,242.07 390.26,242.63 390.55,236.71 390.84,234.59 391.13,237.3 391.41,240.11 391.7,245.11 391.99,247.18 392.28,247.62 392.56,252.26 392.85,256.38 393.14,263.38 393.43,273.1 393.71,281.31 394.0,285.43 394.29,290.94 394.58,277.59 394.86,269.63 395.15,257.96 395.44,252.84 395.73,244.48 396.01,247.61 396.3,245.73 396.59,243.83 396.88,246.69 397.16,238.7 397.45,234.87 397.74,240.13 398.03,236.94 398.31,246.52 398.6,242.9 398.89,242.03 399.18,245.52 399.46,252.36 399.75,259.21 400.04,265.43 400.33,273.53 400.61,276.12 400.9,283.03 401.19,288.68 401.48,278.6 401.76,266.14 402.05,261.1 402.34,252.65 402.63,246.38 402.91,248.07 403.2,246.87 403.49,248.4 403.78,243.21 404.06,244.4 404.35,243.81 404.64,240.51 404.93,237.54 405.21,243.71 405.5,241.91 405.79,249.2 406.08,246.91 406.36,249.9 406.65,257.65 406.94,265.45 407.23,273.23 407.51,277.31 407.8,282.88 408.09,288.95 408.38,276.73 408.66,267.68 408.95,264.43 409.24,255.72 409.53,254.31 409.81,249.05 410.1,244.26 410.39,250.46 410.68,249.48 410.96,250.48 411.25,245.52 411.54,244.81 411.83,247.79 412.11,248.07 412.4,250.19 412.69,248.18 412.98,253.23 413.26,255.86 413.55,262.34 413.84,269.66 414.13,275.39 414.41,278.38 414.7,284.94 414.99,288.09 415.28,280.95 415.56,272.57 415.85,265.44 416.14,259.04 416.43,255.99 416.71,251.91 417.0,250.31 417.29,244.73 417.58,246.38 417.86,249.91 418.15,245.98 418.44,240.97 418.73,239.61 419.01,242.96 419.3,247.76 419.59,248.72 419.88,251.19 420.16,248.5 420.45,257.34 420.74,260.99 421.03,267.67 421.31,276.06 421.6,279.45 421.89,284.34 422.18,288.46 422.46,282.94 422.75,282.08 423.04,279.35 423.33,275.62 423.61,272.5 423.9,274.03 424.19,271.33 424.48,272.19 424.76,271.77 425.05,270.37 425.34,272.67 425.63,271.98 425.91,272.36 426.2,266.58 426.49,275.63 426.78,273.7 427.06,271.85 427.35,275.65 427.64,280.66 427.93,283.59 428.21,286.09 428.5,287.94 428.79,290.42 429.08,291.75 429.36,287.76 429.65,284.65 429.94,282.8 430.23,281.53 430.51,281.45 430.8,285.38 431.09,277.35 431.38,281.16 431.66,279.7 431.95,279.89 432.24,281.42 432.53,281.06 432.81,278.74 433.1,278.53 433.39,277.14 433.68,280.29 433.96,283.98 434.25,282.98 434.54,286.15 434.83,287.76 435.11,288.82 435.4,290.53 435.69,286.39 435.98,271.89 436.26,262.83 436.55,257.73 436.84,247.09 437.13,245.2 437.41,246.78 437.7,242.38 437.99,247.13 438.28,242.88 438.56,237.02 438.85,234.69 439.14,241.85 439.43,240.21 439.71,242.94 440.0,245.87 440.29,250.61 440.58,258.37 440.86,266.98 441.15,274.24 441.44,281.05 441.73,288.26 442.01,285.86 442.3,271.56 442.59,265.85 442.88,251.18 443.16,246.83 443.45,247.16 443.74,246.93 444.03,244.16 444.31,242.16 444.6,241.49 444.89,236.4 445.18,238.24 445.46,233.7 445.75,243.51 446.04,242.19 446.33,247.19 446.61,248.11 446.9,254.58 447.19,259.34 447.48,267.23 447.76,273.04 448.05,278.97 448.34,284.09 448.63,289.23 448.91,279.83 449.2,269.9 449.49,258.88 449.78,256.3 450.06,244.73 450.35,245.28 450.64,243.77 450.93,243.11 451.21,244.05 451.5,242.05 451.79,237.29 452.08,237.67 452.36,236.91 452.65,242.79 452.94,240.78 453.23,240.82 453.51,243.86 453.8,247.32 454.09,248.94 454.38,256.15 454.66,264.81 454.95,270.74 455.24,276.89 455.53,281.66 455.81,287.08 456.1,282.99 456.39,271.42 456.68,263.87 456.96,257.77 457.25,250.86 457.54,246.57 457.83,245.68 458.11,241.98 458.4,240.68 458.69,244.14 458.98,240.88 459.26,238.29 459.55,232.64 459.84,236.75 460.13,238.85 460.41,240.62 460.7,242.52 460.99,242.09 461.28,250.47 461.56,259.5 461.85,263.98 462.14,272.33 462.43,277.44 462.71,284.53 463.0,290.62 463.29,275.08 463.58,267.09 463.86,261.9 464.15,252.7 464.44,246.42 464.73,241.02 465.01,244.24 465.3,245.78 465.59,246.12 465.88,242.38 466.16,236.7 466.45,234.15 466.74,232.6 467.03,235.17 467.31,240.94 467.6,239.16 467.89,237.4 468.18,243.81 468.46,237.65 468.75,244.5 469.04,241.48 469.33,243.32 469.61,244.45 469.9,244.3 470.19,248.48 470.48,248.29 470.76,249.96 471.05,251.73 471.34,252.94 471.63,256.35 471.91,260.68" fill="none" stroke="#FF7F0E" stroke-width="1.2" stroke-linejoin="round"/>
<line x1="342.3" y1="205" x2="342.3" y2="306" stroke="#b0b0b0" stroke-width="0.9"/>
<line x1="342.3" y1="306" x2="478.75" y2="306" stroke="#555" stroke-width="0.8"/>
<line x1="342.3" y1="205" x2="478.75" y2="205" stroke="#f0f0f0" stroke-width="0.8"/>
<line x1="340.5" y1="206.25" x2="342.3" y2="206.25" stroke="#444" stroke-width="0.7"/>
<text x="339.3" y="207.65" class="tk" text-anchor="end">1.0</text>
<line x1="340.5" y1="224.25" x2="342.3" y2="224.25" stroke="#444" stroke-width="0.7"/>
<text x="339.3" y="225.65" class="tk" text-anchor="end">0.8</text>
<line x1="340.5" y1="242.5" x2="342.3" y2="242.5" stroke="#444" stroke-width="0.7"/>
<text x="339.3" y="243.9" class="tk" text-anchor="end">0.6</text>
<line x1="340.5" y1="261.25" x2="342.3" y2="261.25" stroke="#444" stroke-width="0.7"/>
<text x="339.3" y="262.65" class="tk" text-anchor="end">0.4</text>
<line x1="340.5" y1="279.75" x2="342.3" y2="279.75" stroke="#444" stroke-width="0.7"/>
<text x="339.3" y="281.15" class="tk" text-anchor="end">0.2</text>
<line x1="340.5" y1="298" x2="342.3" y2="298" stroke="#444" stroke-width="0.7"/>
<text x="339.3" y="299.4" class="tk" text-anchor="end">0.0</text>
<line x1="348" y1="306" x2="348" y2="307.5" stroke="#555" stroke-width="0.6"/>
<text x="348" y="311.9" class="tk" text-anchor="middle">0</text>
<line x1="377" y1="306" x2="377" y2="307.5" stroke="#555" stroke-width="0.6"/>
<text x="377" y="311.9" class="tk" text-anchor="middle">100</text>
<line x1="405.5" y1="306" x2="405.5" y2="307.5" stroke="#555" stroke-width="0.6"/>
<text x="405.5" y="311.9" class="tk" text-anchor="middle">200</text>
<line x1="434.25" y1="306" x2="434.25" y2="307.5" stroke="#555" stroke-width="0.6"/>
<text x="434.25" y="311.9" class="tk" text-anchor="middle">300</text>
<line x1="463" y1="306" x2="463" y2="307.5" stroke="#555" stroke-width="0.6"/>
<text x="463" y="311.9" class="tk" text-anchor="middle">400</text>
<rect x="439.5" y="206.6" width="37.10000000000002" height="13.1" fill="#fff" fill-opacity="0.85" stroke="#e3e3e3" stroke-width="0.6" rx="1"/>
<line x1="440.6" y1="210.2" x2="449.2" y2="210.2" stroke="#1F77B4" stroke-width="1"/>
<line x1="440.6" y1="215.8" x2="449.2" y2="215.8" stroke="#FF7F0E" stroke-width="1"/>
<text x="451.6" y="211.7" class="lg" textLength="24.3" lengthAdjust="spacingAndGlyphs">Ground Truth</text>
<text x="451.6" y="217.3" class="lg" textLength="19.6" lengthAdjust="spacingAndGlyphs">Prediction</text>
<line x1="478.75" y1="205" x2="478.75" y2="306" stroke="#aaa" stroke-width="0.8"/>
<text x="411.5" y="324.9" class="plab2" text-anchor="middle">(c)</text>
<text x="521.6" y="200.7" class="tt" textLength="99.70000000000002" lengthAdjust="spacing">Prediction Length = 720</text>
<polyline points="524.7,272.41 524.85,260.17 525.0,262.28 525.15,260.25 525.3,267.02 525.45,271.1 525.6,275.17 525.76,279.59 525.91,279.91 526.06,283.54 526.21,283.79 526.36,287.73 526.51,291.09 526.67,295.94 526.82,299.21 526.97,295.86 527.12,293.14 527.27,288.15 527.42,287.14 527.57,286.22 527.73,282.87 527.88,283.89 528.03,280.71 528.18,274.92 528.33,273.9 528.48,273.17 528.63,277.43 528.79,282.32 528.94,281.12 529.09,282.51 529.24,279.56 529.39,288.92 529.54,285.79 529.7,291.63 529.85,290.11 530.0,294.15 530.15,298.08 530.3,296.21 530.45,285.34 530.6,277.65 530.76,273.0 530.91,268.12 531.06,261.99 531.21,256.19 531.36,253.22 531.51,250.06 531.66,248.63 531.82,248.34 531.97,229.22 532.12,233.58 532.27,243.95 532.42,252.91 532.57,252.52 532.73,255.74 532.88,259.54 533.03,264.13 533.18,267.03 533.33,272.78 533.48,276.38 533.63,277.85 533.79,286.91 533.94,291.34 534.09,279.51 534.24,272.71 534.39,269.67 534.54,263.98 534.69,263.47 534.85,253.51 535.0,249.65 535.15,249.8 535.3,245.68 535.45,242.08 535.6,244.99 535.76,230.05 535.91,234.18 536.06,243.52 536.21,248.74 536.36,250.7 536.51,252.19 536.66,259.16 536.82,262.75 536.97,266.11 537.12,271.21 537.27,272.67 537.42,280.22 537.57,286.01 537.72,291.24 537.88,284.41 538.03,280.62 538.18,276.12 538.33,269.55 538.48,264.99 538.63,265.91 538.79,261.1 538.94,259.19 539.09,254.55 539.24,257.79 539.39,254.62 539.54,247.74 539.69,249.03 539.85,252.07 540.0,250.57 540.15,259.05 540.3,260.53 540.45,263.78 540.6,270.39 540.75,271.16 540.91,277.2 541.06,278.05 541.21,283.29 541.36,287.6 541.51,291.27 541.66,280.89 541.82,275.28 541.97,268.01 542.12,262.09 542.27,261.83 542.42,257.6 542.57,256.54 542.72,252.15 542.88,248.69 543.03,239.97 543.18,248.19 543.33,234.95 543.48,232.94 543.63,244.99 543.78,250.39 543.94,247.31 544.09,254.88 544.24,256.69 544.39,258.45 544.54,265.58 544.69,269.56 544.85,275.72 545.0,280.34 545.15,283.93 545.3,290.45 545.45,282.83 545.6,273.97 545.75,266.33 545.91,261.36 546.06,260.23 546.21,254.11 546.36,251.42 546.51,252.64 546.66,248.42 546.81,242.87 546.97,239.08 547.12,230.79 547.27,236.35 547.42,242.04 547.57,252.47 547.72,248.53 547.88,253.75 548.03,260.51 548.18,261.81 548.33,268.14 548.48,270.47 548.63,280.15 548.78,287.18 548.94,289.73 549.09,284.66 549.24,278.0 549.39,271.95 549.54,279.85 549.69,272.86 549.84,271.09 550.0,267.94 550.15,265.71 550.3,271.12 550.45,254.45 550.6,249.05 550.75,260.01 550.91,265.82 551.06,271.09 551.21,269.68 551.36,271.34 551.51,275.48 551.66,282.25 551.81,286.34 551.97,290.0 552.12,295.51 552.27,298.64 552.42,297.64 552.57,293.54 552.72,289.33 552.87,286.26 553.03,288.12 553.18,282.51 553.33,281.68 553.48,278.43 553.63,285.57 553.78,278.75 553.94,272.76 554.09,274.48 554.24,278.95 554.39,281.62 554.54,278.36 554.69,282.07 554.84,288.26 555.0,291.41 555.15,289.86 555.3,294.7 555.45,297.37 555.6,295.14 555.75,286.98 555.9,277.58 556.06,277.35 556.21,271.01 556.36,267.37 556.51,259.56 556.66,261.45 556.81,252.14 556.97,255.33 557.12,250.54 557.27,248.13 557.42,259.23 557.57,263.05 557.72,260.62 557.87,266.44 558.03,266.69 558.18,268.42 558.33,268.58 558.48,273.66 558.63,276.85 558.78,286.22 558.93,288.26 559.09,289.38 559.24,279.56 559.39,275.37 559.54,265.21 559.69,266.89 559.84,262.67 560.0,256.74 560.15,251.16 560.3,249.82 560.45,243.56 560.6,247.18 560.75,248.26 560.9,235.17 561.06,231.51 561.21,239.9 561.36,247.03 561.51,246.36 561.66,251.38 561.81,258.17 561.96,266.26 562.12,264.94 562.27,269.09 562.42,270.51 562.57,280.0 562.72,285.38 562.87,289.48 563.03,281.09 563.18,275.39 563.33,269.91 563.48,268.86 563.63,263.62 563.78,260.91 563.93,261.73 564.09,257.67 564.24,255.51 564.39,255.73 564.54,248.28 564.69,234.08 564.84,242.61 564.99,246.45 565.15,255.2 565.3,255.71 565.45,260.91 565.6,265.03 565.75,264.76 565.9,270.41 566.06,275.75 566.21,277.92 566.36,284.09 566.51,288.21 566.66,287.51 566.81,279.7 566.96,268.56 567.12,269.14 567.27,263.13 567.42,263.9 567.57,254.03 567.72,254.03 567.87,252.2 568.02,248.22 568.18,247.73 568.33,240.25 568.48,225.23 568.63,232.77 568.78,244.71 568.93,246.99 569.09,253.09 569.24,254.36 569.39,257.27 569.54,261.07 569.69,262.68 569.84,269.68 569.99,274.95 570.15,278.39 570.3,285.5 570.45,291.8 570.6,282.95 570.75,275.99 570.9,268.87 571.05,271.31 571.21,266.02 571.36,262.38 571.51,254.23 571.66,254.82 571.81,250.2 571.96,249.56 572.12,244.27 572.27,240.04 572.42,226.69 572.57,243.12 572.72,253.57 572.87,246.96 573.02,250.44 573.18,258.73 573.33,263.27 573.48,264.59 573.63,270.47 573.78,274.04 573.93,279.71 574.08,286.26 574.24,290.58 574.39,286.78 574.54,280.49 574.69,274.55 574.84,274.35 574.99,267.75 575.15,264.46 575.3,268.64 575.45,260.39 575.6,267.14 575.75,263.59 575.9,256.79 576.05,246.62 576.21,246.07 576.36,261.59 576.51,259.52 576.66,271.74 576.81,265.41 576.96,273.53 577.11,270.91 577.27,279.69 577.42,286.11 577.57,287.93 577.72,292.98 577.87,298.74 578.02,297.71 578.18,295.41 578.33,291.2 578.48,285.93 578.63,289.57 578.78,289.95 578.93,292.47 579.08,285.48 579.24,284.59 579.39,281.35 579.54,284.45 579.69,284.45 579.84,277.41 579.99,283.55 580.14,281.28 580.3,283.65 580.45,286.31 580.6,289.51 580.75,287.99 580.9,290.76 581.05,295.15 581.21,295.53 581.36,297.81 581.51,299.62 581.66,292.73 581.81,283.68 581.96,275.81 582.11,270.63 582.27,268.78 582.42,262.23 582.57,260.47 582.72,254.42 582.87,253.8 583.02,246.58 583.17,244.06 583.33,228.8 583.48,236.91 583.63,246.95 583.78,249.36 583.93,253.93 584.08,253.38 584.24,260.3 584.39,263.42 584.54,265.46 584.69,272.99 584.84,279.01 584.99,287.93 585.14,288.07 585.3,277.82 585.45,270.63 585.6,264.56 585.75,257.25 585.9,256.59 586.05,249.65 586.2,253.28 586.36,242.09 586.51,240.09 586.66,227.01 586.81,218.12 586.96,242.36 587.11,242.95 587.27,243.72 587.42,250.75 587.57,252.48 587.72,257.42 587.87,267.25 588.02,269.99 588.17,273.05 588.33,278.07 588.48,281.11 588.63,287.1 588.78,287.67 588.93,279.23 589.08,270.52 589.23,266.62 589.39,264.87 589.54,261.06 589.69,256.79 589.84,253.93 589.99,249.52 590.14,246.57 590.3,249.95 590.45,238.48 590.6,229.16 590.75,241.12 590.9,246.94 591.05,253.45 591.2,252.02 591.36,256.62 591.51,260.64 591.66,265.76 591.81,271.33 591.96,278.05 592.11,281.95 592.26,287.03 592.42,287.13 592.57,276.81 592.72,272.56 592.87,269.37 593.02,264.65 593.17,261.13 593.33,258.0 593.48,254.75 593.63,253.04 593.78,249.33 593.93,242.33 594.08,235.8 594.23,246.16 594.39,243.46 594.54,251.13 594.69,251.66 594.84,259.43 594.99,261.36 595.14,269.08 595.29,272.1 595.45,273.18 595.6,279.0 595.75,285.03 595.9,291.78 596.05,281.54 596.2,274.31 596.36,265.18 596.51,266.31 596.66,261.36 596.81,253.37 596.96,250.34 597.11,250.27 597.26,248.19 597.42,235.32 597.57,238.96 597.72,231.92 597.87,238.98 598.02,242.16 598.17,253.43 598.32,253.73 598.48,257.19 598.63,262.39 598.78,262.62 598.93,268.21 599.08,272.11 599.23,278.91 599.39,286.39 599.54,289.09 599.69,284.66 599.84,276.54 599.99,273.75 600.14,265.41 600.29,265.52 600.45,262.62 600.6,260.58 600.75,259.45 600.9,253.53 601.05,251.0 601.2,250.17 601.35,251.56 601.51,262.12 601.66,257.74 601.81,259.27 601.96,265.1 602.11,269.17 602.26,275.92 602.42,275.18 602.57,278.15 602.72,285.17 602.87,288.42 603.02,294.35 603.17,299.9 603.32,296.48 603.48,292.11 603.63,291.61 603.78,289.99 603.93,289.13 604.08,286.51 604.23,288.84 604.38,285.25 604.54,283.61 604.69,288.14 604.84,280.23 604.99,282.88 605.14,284.75 605.29,283.81 605.45,286.43 605.6,282.47 605.75,288.44 605.9,286.42 606.05,288.35 606.2,292.13 606.35,291.57 606.51,294.5 606.66,296.73 606.81,299.08 606.96,299.57 607.11,290.59 607.26,278.49 607.41,271.86 607.57,269.69 607.72,266.83 607.87,261.02 608.02,254.23 608.17,248.83 608.32,246.23 608.48,249.86 608.63,240.24 608.78,231.9 608.93,223.01 609.08,240.62 609.23,242.27 609.38,253.91 609.54,252.05 609.69,256.48 609.84,262.23 609.99,264.37 610.14,270.83 610.29,274.99 610.44,281.18 610.6,288.39 610.75,285.21 610.9,274.73 611.05,265.96 611.2,260.9 611.35,256.87 611.51,255.04 611.66,251.66 611.81,244.51 611.96,243.12 612.11,233.34 612.26,227.22 612.41,209.24 612.57,231.83 612.72,243.84 612.87,239.6 613.02,251.02 613.17,256.25 613.32,264.59 613.47,264.03 613.63,270.91 613.78,279.34 613.93,286.07 614.08,289.02 614.23,279.9 614.38,269.12 614.54,267.31 614.69,264.74 614.84,262.61 614.99,256.76 615.14,254.75 615.29,252.74 615.44,244.14 615.6,239.55 615.75,231.7 615.9,243.68 616.05,245.77 616.2,252.19 616.35,255.13 616.5,259.7 616.66,257.57 616.81,264.83 616.96,273.24 617.11,275.41 617.26,278.44 617.41,284.12 617.57,290.0 617.72,285.39 617.87,278.83 618.02,273.6 618.17,268.33 618.32,267.68 618.47,265.59 618.63,258.61 618.78,258.05 618.93,252.75 619.08,255.58 619.23,254.23 619.38,245.88 619.53,242.28 619.69,252.83 619.84,257.29 619.99,253.6 620.14,259.11 620.29,258.73 620.44,261.13 620.6,271.02 620.75,273.45 620.9,277.3 621.05,280.08 621.2,283.17 621.35,288.61 621.5,288.06 621.66,281.45 621.81,267.36 621.96,267.28 622.11,261.65 622.26,260.82 622.41,258.52 622.56,250.06 622.72,252.84 622.87,249.73 623.02,238.97 623.17,247.58 623.32,223.93 623.47,223.5 623.63,245.95 623.78,244.44 623.93,250.98 624.08,254.11 624.23,256.68 624.38,267.2 624.53,271.39 624.69,274.17 624.84,283.04 624.99,288.55 625.14,287.54 625.29,279.85 625.44,272.47 625.59,271.19 625.75,266.66 625.9,266.94 626.05,263.35 626.2,259.2 626.35,262.94 626.5,258.12 626.66,255.42 626.81,251.51 626.96,258.9 627.11,260.83 627.26,266.63 627.41,268.52 627.56,272.8 627.72,280.18 627.87,281.74 628.02,283.04 628.17,290.04 628.32,294.98 628.47,299.4 628.62,296.62 628.78,294.24 628.93,293.97 629.08,293.76 629.23,290.48 629.38,287.08 629.53,288.12 629.69,286.78 629.84,285.73 629.99,281.79 630.14,282.78 630.29,277.56 630.44,290.41 630.59,289.69 630.75,290.7 630.9,287.63 631.05,291.94 631.2,295.33 631.35,294.0 631.5,295.11 631.65,298.53 631.81,294.44 631.96,286.95 632.11,277.96 632.26,269.8 632.41,269.85 632.56,266.7 632.72,261.42 632.87,258.61 633.02,258.53 633.17,249.17 633.32,240.89 633.47,242.81 633.62,243.6" fill="none" stroke="#1F77B4" stroke-width="1.0" stroke-linejoin="round"/>
<polyline points="510,231.36 510.15,228.86 510.3,222.53 510.45,217.41 510.61,208.59 510.76,225.44 510.91,229.26 511.06,232.79 511.21,242.05 511.36,247.11 511.51,253.87 511.67,256.73 511.82,264.41 511.97,271.69 512.12,279.1 512.27,289.72 512.42,285.01 512.58,280.62 512.73,272.2 512.88,268.21 513.03,268.11 513.18,262.42 513.33,261.26 513.48,255.41 513.64,254.98 513.79,255.46 513.94,247.58 514.09,246.15 514.24,248.98 514.39,256.28 514.55,257.53 514.7,261.69 514.85,262.9 515.0,268.01 515.15,268.48 515.3,272.09 515.45,275.94 515.61,277.31 515.76,283.07 515.91,287.81 516.06,289.25 516.21,279.77 516.36,272.98 516.51,268.56 516.67,263.38 516.82,256.99 516.97,259.55 517.12,252.63 517.27,252.91 517.42,244.67 517.58,244.93 517.73,248.12 517.88,243.24 518.03,228.15 518.18,237.47 518.33,246.48 518.48,252.0 518.64,253.56 518.79,257.57 518.94,258.77 519.09,266.42 519.24,271.44 519.39,273.35 519.54,278.69 519.7,286.07 519.85,288.72 520.0,277.15 520.15,270.12 520.3,264.18 520.45,262.0 520.61,257.86 520.76,254.65 520.91,255.25 521.06,249.7 521.21,250.05 521.36,242.87 521.51,234.33 521.67,235.7 521.82,234.53 521.97,246.99 522.12,250.96 522.27,250.6 522.42,259.2 522.57,261.26 522.73,262.14 522.88,270.89 523.03,275.76 523.18,283.14 523.33,290.13 523.48,288.37 523.64,282.89 523.79,279.72 523.94,278.71 524.09,271.78 524.24,277.3 524.39,269.24 524.54,272.25 524.7,266.21 524.85,265.28 525.0,263.98 525.15,270.56 525.3,272.04 525.45,270.02 525.6,273.1 525.76,272.9 525.91,278.43 526.06,279.93 526.21,285.18 526.36,284.26 526.51,289.76 526.67,293.42 526.82,296.89 526.97,294.58 527.12,290.45 527.27,289.59 527.42,289.53 527.57,288.19 527.73,280.25 527.88,284.1 528.03,276.24 528.18,280.34 528.33,285.89 528.48,274.78 528.63,276.91 528.79,281.17 528.94,281.94 529.09,283.23 529.24,282.58 529.39,288.65 529.54,289.62 529.7,289.05 529.85,291.64 530.0,294.37 530.15,296.87 530.3,295.07 530.45,287.04 530.6,277.23 530.76,271.87 530.91,269.2 531.06,269.09 531.21,265.52 531.36,260.13 531.51,255.54 531.66,255.76 531.82,257.84 531.97,247.65 532.12,244.17 532.27,252.43 532.42,250.75 532.57,254.48 532.73,260.79 532.88,263.51 533.03,268.92 533.18,272.63 533.33,274.91 533.48,279.17 533.63,281.59 533.79,286.33 533.94,289.58 534.09,285.18 534.24,275.61 534.39,268.71 534.54,268.37 534.69,268.12 534.85,259.14 535.0,260.91 535.15,254.61 535.3,258.22 535.45,254.82 535.6,251.3 535.76,249.42 535.91,243.81 536.06,249.53 536.21,259.99 536.36,254.46 536.51,265.48 536.66,262.63 536.82,263.8 536.97,269.5 537.12,273.12 537.27,276.88 537.42,281.43 537.57,287.62 537.72,288.59 537.88,283.13 538.03,277.07 538.18,277.0 538.33,266.71 538.48,267.43 538.63,262.66 538.79,261.04 538.94,262.59 539.09,260.2 539.24,261.73 539.39,253.4 539.54,249.85 539.69,254.37 539.85,259.24 540.0,257.59 540.15,264.16 540.3,260.72 540.45,270.4 540.6,269.24 540.75,271.64 540.91,275.33 541.06,279.27 541.21,284.5 541.36,286.77 541.51,290.24 541.66,284.06 541.82,275.09 541.97,268.54 542.12,270.45 542.27,264.84 542.42,265.52 542.57,256.93 542.72,248.93 542.88,256.11 543.03,253.75 543.18,256.53 543.33,246.34 543.48,245.83 543.63,253.83 543.78,253.37 543.94,257.3 544.09,255.98 544.24,263.92 544.39,264.13 544.54,268.38 544.69,273.89 544.85,277.41 545.0,279.74 545.15,287.73 545.3,290.67 545.45,284.65 545.6,278.02 545.75,271.81 545.91,268.66 546.06,269.29 546.21,264.33 546.36,260.23 546.51,251.19 546.66,252.12 546.81,255.96 546.97,250.88 547.12,240.45 547.27,240.9 547.42,250.01 547.57,256.04 547.72,258.02 547.88,262.51 548.03,261.75 548.18,269.62 548.33,270.44 548.48,274.73 548.63,282.93 548.78,286.65 548.94,289.85 549.09,285.17 549.24,280.22 549.39,282.02 549.54,280.04 549.69,276.81 549.84,273.61 550.0,274.5 550.15,269.97 550.3,270.36 550.45,268.47 550.6,262.39 550.75,273.59 550.91,276.7 551.06,277.13 551.21,270.1 551.36,282.24 551.51,281.89 551.66,282.09 551.81,285.58 551.97,290.5 552.12,294.07 552.27,297.39 552.42,295.03 552.57,291.41 552.72,290.49 552.87,287.21 553.03,283.78 553.18,282.76 553.33,282.49 553.48,282.86 553.63,287.93 553.78,275.36 553.94,278.41 554.09,277.0 554.24,281.44 554.39,285.92 554.54,286.74 554.69,284.57 554.84,285.59 555.0,286.05 555.15,290.4 555.3,294.64 555.45,295.66 555.6,294.95 555.75,285.78 555.9,277.58 556.06,275.0 556.21,268.37 556.36,262.37 556.51,257.36 556.66,260.73 556.81,254.05 556.97,250.31 557.12,245.29 557.27,246.66 557.42,259.45 557.57,258.31 557.72,257.32 557.87,259.59 558.03,267.04 558.18,265.05 558.33,269.58 558.48,274.04 558.63,278.04 558.78,282.56 558.93,287.65 559.09,289.12 559.24,282.28 559.39,277.5 559.54,272.4 559.69,267.27 559.84,269.17 560.0,257.29 560.15,259.52 560.3,258.75 560.45,257.77 560.6,253.22 560.75,249.63 560.9,247.07 561.06,242.13 561.21,252.03 561.36,244.82 561.51,257.43 561.66,256.86 561.81,264.44 561.96,267.26 562.12,270.52 562.27,271.79 562.42,276.82 562.57,280.96 562.72,286.77 562.87,289.81 563.03,281.76 563.18,278.73 563.33,272.69 563.48,263.88 563.63,267.25 563.78,258.55 563.93,258.39 564.09,255.11 564.24,253.12 564.39,253.48 564.54,248.54 564.69,236.39 564.84,247.88 564.99,254.28 565.15,260.99 565.3,257.08 565.45,257.68 565.6,263.16 565.75,268.83 565.9,269.01 566.06,272.81 566.21,278.85 566.36,283.03 566.51,288.19 566.66,287.74 566.81,280.21 566.96,273.69 567.12,270.53 567.27,267.12 567.42,265.86 567.57,263.26 567.72,260.39 567.87,258.15 568.02,252.04 568.18,249.18 568.33,252.8 568.48,242.15 568.63,247.56 568.78,249.08 568.93,254.65 569.09,255.97 569.24,257.97 569.39,261.76 569.54,263.2 569.69,269.95 569.84,275.1 569.99,275.29 570.15,281.35 570.3,285.15 570.45,291.31 570.6,286.13 570.75,275.66 570.9,271.87 571.05,272.28 571.21,267.29 571.36,263.83 571.51,255.22 571.66,257.55 571.81,258.77 571.96,258.56 572.12,254.23 572.27,245.82 572.42,239.49 572.57,243.15 572.72,250.35 572.87,259.66 573.02,258.67 573.18,258.36 573.33,268.29 573.48,265.13 573.63,274.37 573.78,274.93 573.93,280.72 574.08,286.03 574.24,290.67 574.39,287.56 574.54,281.18 574.69,276.77 574.84,273.79 574.99,269.65 575.15,269.0 575.3,271.19 575.45,269.12 575.6,269.48 575.75,272.44 575.9,264.69 576.05,258.54 576.21,254.99 576.36,264.24 576.51,273.95 576.66,271.14 576.81,271.59 576.96,275.65 577.11,273.83 577.27,279.31 577.42,281.72 577.57,285.04 577.72,293.12 577.87,297.44 578.02,294.81 578.18,292.14 578.33,287.27 578.48,288.63 578.63,288.01 578.78,288.68 578.93,287.66 579.08,283.7 579.24,280.95 579.39,277.74 579.54,277.02 579.69,277.41 579.84,280.16 579.99,280.61 580.14,286.72 580.3,284.76 580.45,284.2 580.6,285.25 580.75,287.42 580.9,287.0 581.05,288.73 581.21,292.87 581.36,294.16 581.51,296.89 581.66,292.97 581.81,283.58 581.96,279.48 582.11,273.64 582.27,273.61 582.42,267.9 582.57,258.62 582.72,263.86 582.87,257.41 583.02,249.56 583.17,253.81 583.33,246.63 583.48,241.21 583.63,250.98 583.78,257.42 583.93,262.58 584.08,264.43 584.24,268.0 584.39,271.13 584.54,267.88 584.69,274.97 584.84,281.82 584.99,284.94 585.14,289.18 585.3,281.69 585.45,271.38 585.6,268.53 585.75,263.74 585.9,262.33 586.05,258.81 586.2,256.09 586.36,250.7 586.51,252.74 586.66,246.7 586.81,243.15 586.96,248.47 587.11,247.49 587.27,250.53 587.42,257.67 587.57,258.89 587.72,264.71 587.87,268.76 588.02,270.5 588.17,271.07 588.33,276.6 588.48,284.01 588.63,287.84 588.78,288.57 588.93,281.33 589.08,276.18 589.23,270.85 589.39,269.69 589.54,260.18 589.69,264.01 589.84,263.48 589.99,257.45 590.14,255.71 590.3,256.34 590.45,253.66 590.6,243.47 590.75,255.57 590.9,252.39 591.05,263.33 591.2,258.68 591.36,263.22 591.51,271.57 591.66,269.75 591.81,272.07 591.96,278.68 592.11,282.39 592.26,287.44 592.42,287.17 592.57,279.17 592.72,271.36 592.87,267.78 593.02,270.2 593.17,261.7 593.33,262.72 593.48,253.37 593.63,256.89 593.78,249.1 593.93,249.12 594.08,244.23 594.23,245.97 594.39,247.02 594.54,254.3 594.69,258.21 594.84,262.95 594.99,262.63 595.14,267.85 595.29,272.1 595.45,272.83 595.6,280.36 595.75,285.02 595.9,291.21 596.05,283.35 596.2,275.69 596.36,266.57 596.51,267.68 596.66,263.83 596.81,259.07 596.96,256.84 597.11,252.27 597.26,254.36 597.42,253.81 597.57,249.63 597.72,239.14 597.87,254.57 598.02,255.81 598.17,253.12 598.32,258.28 598.48,257.59 598.63,265.03 598.78,270.33 598.93,274.73 599.08,275.55 599.23,279.46 599.39,286.79 599.54,290.43 599.69,283.67 599.84,279.61 599.99,276.02 600.14,275.2 600.29,270.66 600.45,264.92 600.6,265.41 600.75,269.95 600.9,259.09 601.05,252.93 601.2,261.78 601.35,254.01 601.51,257.66 601.66,260.86 601.81,260.78 601.96,269.68 602.11,270.99 602.26,272.44 602.42,276.28 602.57,279.62 602.72,285.43 602.87,288.44 603.02,294.69 603.17,296.71 603.32,293.29 603.48,289.94 603.63,287.75 603.78,287.18 603.93,288.37 604.08,287.67 604.23,280.23 604.38,285.91 604.54,281.54 604.69,285.41 604.84,278.38 604.99,272.3 605.14,280.79 605.29,282.43 605.45,280.19 605.6,282.77 605.75,284.19 605.9,286.0 606.05,282.9 606.2,285.78 606.35,289.75 606.51,291.63 606.66,292.82 606.81,294.16 606.96,297.96 607.11,289.47 607.26,280.78 607.41,279.98 607.57,276.17 607.72,273.01 607.87,269.54 608.02,265.82 608.17,258.71 608.32,259.45 608.48,258.35 608.63,257.18 608.78,251.6 608.93,241.05 609.08,250.15 609.23,254.76 609.38,257.89 609.54,258.76 609.69,259.72 609.84,264.99 609.99,271.76 610.14,274.59 610.29,279.61 610.44,282.01 610.6,288.88 610.75,287.25 610.9,276.71 611.05,271.78 611.2,267.32 611.35,270.49 611.51,264.8 611.66,260.14 611.81,259.84 611.96,257.12 612.11,258.3 612.26,255.95 612.41,248.52 612.57,254.29 612.72,259.32 612.87,262.04 613.02,265.56 613.17,261.31 613.32,270.07 613.47,273.02 613.63,276.68 613.78,281.11 613.93,286.68 614.08,289.96 614.23,283.17 614.38,276.53 614.54,271.28 614.69,267.73 614.84,265.81 614.99,259.94 615.14,261.05 615.29,258.03 615.44,252.91 615.6,247.71 615.75,249.45 615.9,255.26 616.05,266.88 616.2,264.8 616.35,262.26 616.5,265.46 616.66,267.16 616.81,270.64 616.96,274.42 617.11,277.77 617.26,280.89 617.41,286.66 617.57,290.43 617.72,288.03 617.87,278.3 618.02,276.1 618.17,271.49 618.32,266.03 618.47,266.23 618.63,259.99 618.78,261.83 618.93,268.29 619.08,262.45 619.23,262.55 619.38,256.51 619.53,242.91 619.69,256.02 619.84,258.55 619.99,261.6 620.14,259.62 620.29,259.6 620.44,272.63 620.6,273.04 620.75,273.92 620.9,275.35 621.05,279.94 621.2,282.62 621.35,288.96 621.5,288.72 621.66,281.71 621.81,274.46 621.96,271.33 622.11,268.86 622.26,264.77 622.41,265.25 622.56,260.52 622.72,257.4 622.87,253.15 623.02,257.68 623.17,256.19 623.32,247.96 623.47,239.18 623.63,251.87 623.78,258.89 623.93,258.92 624.08,265.15 624.23,264.61 624.38,271.04 624.53,274.12 624.69,273.71 624.84,282.59 624.99,288.54 625.14,286.55 625.29,279.23 625.44,278.42 625.59,272.4 625.75,271.67 625.9,263.56 626.05,258.4 626.2,260.95 626.35,261.75 626.5,256.21 626.66,254.09 626.81,258.13 626.96,259.9 627.11,263.81 627.26,264.58 627.41,272.18 627.56,276.96 627.72,277.29 627.87,278.75 628.02,282.0 628.17,287.82 628.32,294.07 628.47,296.72 628.62,295.42 628.78,288.26 628.93,288.5 629.08,289.9 629.23,289.84 629.38,283.02 629.53,284.97 629.69,289.3 629.84,284.43 629.99,272.57 630.14,277.55 630.29,285.76 630.44,276.84 630.59,284.65 630.75,277.67 630.9,288.96 631.05,285.02 631.2,290.26 631.35,292.05 631.5,289.78 631.65,294.81 631.81,294.69 631.96,283.59 632.11,278.42 632.26,272.7 632.41,274.05 632.56,265.8 632.72,261.05 632.87,263.06 633.02,262.5 633.17,254.33 633.32,247.84 633.47,251.58 633.62,250.49" fill="none" stroke="#FF7F0E" stroke-width="1.0" stroke-linejoin="round"/>
<line x1="503.75" y1="205" x2="503.75" y2="306" stroke="#c0c0c0" stroke-width="0.9"/>
<line x1="503.75" y1="306" x2="638.75" y2="306" stroke="#555" stroke-width="0.8"/>
<line x1="503.75" y1="205" x2="638.75" y2="205" stroke="#f0f0f0" stroke-width="0.8"/>
<line x1="501.95" y1="209.5" x2="503.75" y2="209.5" stroke="#444" stroke-width="0.7"/>
<text x="500.75" y="210.9" class="tk" text-anchor="end">1.0</text>
<line x1="501.95" y1="227" x2="503.75" y2="227" stroke="#444" stroke-width="0.7"/>
<text x="500.75" y="228.4" class="tk" text-anchor="end">0.5</text>
<line x1="501.95" y1="244.5" x2="503.75" y2="244.5" stroke="#444" stroke-width="0.7"/>
<text x="500.75" y="245.9" class="tk" text-anchor="end">0.0</text>
<line x1="501.95" y1="262" x2="503.75" y2="262" stroke="#444" stroke-width="0.7"/>
<text x="500.75" y="263.4" class="tk" text-anchor="end">-0.5</text>
<line x1="501.95" y1="279.75" x2="503.75" y2="279.75" stroke="#444" stroke-width="0.7"/>
<text x="500.75" y="281.15" class="tk" text-anchor="end">-1.0</text>
<line x1="501.95" y1="298" x2="503.75" y2="298" stroke="#444" stroke-width="0.7"/>
<text x="500.75" y="299.4" class="tk" text-anchor="end">-1.5</text>
<line x1="510" y1="306" x2="510" y2="307.5" stroke="#555" stroke-width="0.6"/>
<text x="510" y="311.9" class="tk" text-anchor="middle">0</text>
<line x1="525" y1="306" x2="525" y2="307.5" stroke="#555" stroke-width="0.6"/>
<text x="525" y="311.9" class="tk" text-anchor="middle">100</text>
<line x1="540" y1="306" x2="540" y2="307.5" stroke="#555" stroke-width="0.6"/>
<text x="540" y="311.9" class="tk" text-anchor="middle">200</text>
<line x1="555" y1="306" x2="555" y2="307.5" stroke="#555" stroke-width="0.6"/>
<text x="555" y="311.9" class="tk" text-anchor="middle">300</text>
<line x1="571.25" y1="306" x2="571.25" y2="307.5" stroke="#555" stroke-width="0.6"/>
<text x="571.25" y="311.9" class="tk" text-anchor="middle">400</text>
<line x1="586.25" y1="306" x2="586.25" y2="307.5" stroke="#555" stroke-width="0.6"/>
<text x="586.25" y="311.9" class="tk" text-anchor="middle">500</text>
<line x1="601.25" y1="306" x2="601.25" y2="307.5" stroke="#555" stroke-width="0.6"/>
<text x="601.25" y="311.9" class="tk" text-anchor="middle">600</text>
<line x1="616.25" y1="306" x2="616.25" y2="307.5" stroke="#555" stroke-width="0.6"/>
<text x="616.25" y="311.9" class="tk" text-anchor="middle">700</text>
<line x1="631.25" y1="306" x2="631.25" y2="307.5" stroke="#555" stroke-width="0.6"/>
<text x="631.25" y="311.9" class="tk" text-anchor="middle">800</text>
<rect x="552" y="206.6" width="37.10000000000002" height="13.1" fill="#fff" fill-opacity="0.85" stroke="#e3e3e3" stroke-width="0.6" rx="1"/>
<line x1="553.1" y1="210.2" x2="561.7" y2="210.2" stroke="#1F77B4" stroke-width="1"/>
<line x1="553.1" y1="215.8" x2="561.7" y2="215.8" stroke="#FF7F0E" stroke-width="1"/>
<text x="564.1" y="211.7" class="lg" textLength="24.3" lengthAdjust="spacingAndGlyphs">Ground Truth</text>
<text x="564.1" y="217.3" class="lg" textLength="19.6" lengthAdjust="spacingAndGlyphs">Prediction</text>
<line x1="638.75" y1="205" x2="638.75" y2="306" stroke="#555" stroke-width="0.8"/>
<text x="571.5" y="324.9" class="plab2" text-anchor="middle">(d)</text>
</svg></body></html>
